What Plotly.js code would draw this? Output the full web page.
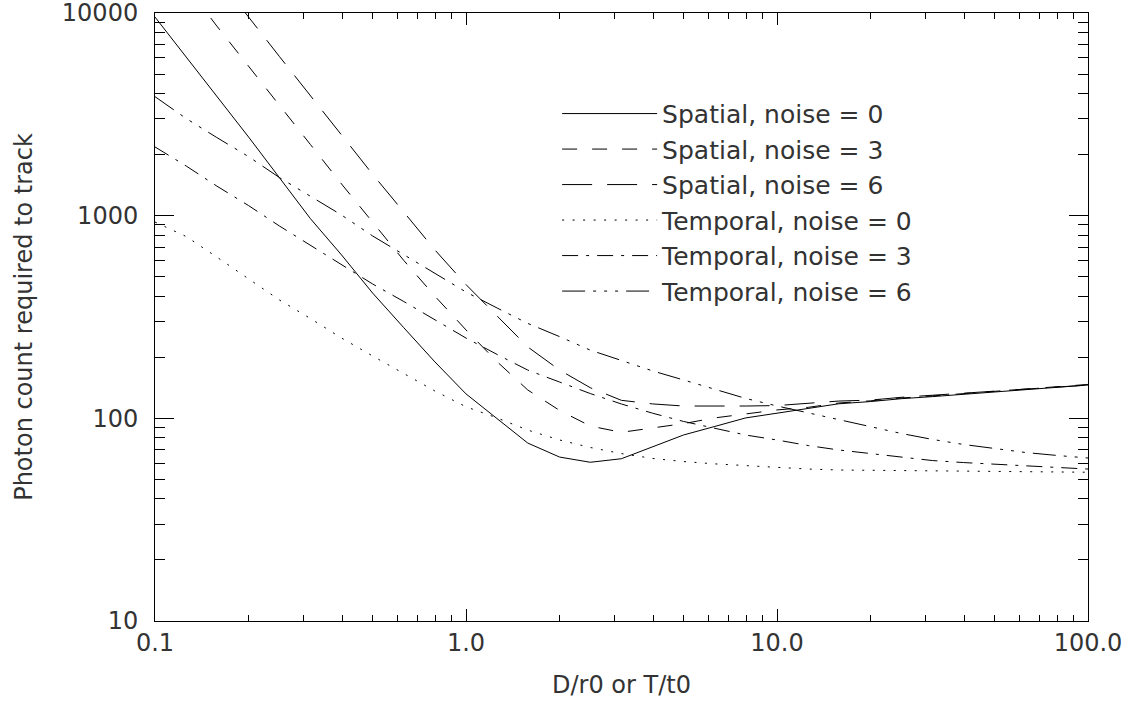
<!DOCTYPE html>
<html>
<head>
<meta charset="utf-8">
<script src="https://cdn.plot.ly/plotly-3.0.1.min.js"></script>
<style>html,body{margin:0;padding:0;background:#fff}#chart{width:1133px;height:705px}</style>
</head>
<body>
<div id="chart"></div>
<script>
// x grid (D/r0 or T/t0)
var xVals = [0.1, 0.126, 0.158, 0.2, 0.251, 0.316, 0.398, 0.501, 0.631, 0.794,
             1.0, 1.26, 1.58, 2.0, 2.51, 3.16, 3.98, 5.01, 6.31, 7.94,
             10.0, 12.6, 15.8, 20.0, 25.1, 31.6, 39.8, 50.1, 63.1, 79.4, 100.0];

var spatial0 = [9550, 6070, 3845, 2443, 1542, 967, 640, 415, 280, 190,
                132, 99, 75.5, 64.4, 60.7, 63.2, 72.3, 82.8, 91.2, 100.5,
                106, 112, 118, 121, 125, 128, 131.6, 135, 138.6, 142, 146];
var spatial3 = [21100, 13600, 8630, 5480, 3510, 2245, 1433, 931, 601, 401,
                273, 190, 138, 109.4, 91.6, 85.3, 89.3, 94.2, 100.5, 104.8,
                110, 113.3, 119, 122, 126, 129, 132.5, 136, 139.5, 143, 147];
var spatial6 = [36500, 23400, 15000, 9550, 6110, 3910, 2500, 1600, 1042, 678,
                457, 318, 225, 173, 141.6, 122.7, 117.8, 115, 114.6, 115,
                115.6, 118.3, 121.7, 123, 127, 130, 133, 136, 139, 142.4, 146];
var temporal0 = [930, 789, 625, 487, 384, 311, 249, 203, 166, 136.5,
                 114, 100.4, 87.5, 78.2, 71.8, 67, 63.4, 61.2, 59.6, 58.3,
                 57.2, 56.2, 55.6, 55.4, 55.2, 55, 54.8, 54.6, 54.5, 54.3, 54.2];
var temporal3 = [2183, 1758, 1400, 1121, 890, 713, 574, 460, 377, 306,
                 249, 206.5, 173, 151, 132.5, 117.7, 106, 96.5, 89, 82.7,
                 78.2, 73.4, 69.8, 67, 64.4, 61.9, 60.5, 59.3, 58.2, 57.2, 56.2];
var temporal6 = [3865, 3015, 2430, 1955, 1543, 1244, 1007, 794, 643, 521,
                 420, 350, 294, 253, 217, 193, 171.4, 154.6, 138.7, 125.3,
                 115.1, 106.3, 98.2, 90.6, 84.2, 78.7, 74.3, 71.0, 67.8, 65.6, 63.7];

var seriesNames = ['Spatial, noise = 0', 'Spatial, noise = 3', 'Spatial, noise = 6',
                   'Temporal, noise = 0', 'Temporal, noise = 3', 'Temporal, noise = 6'];

var xTickVals = [0.1, 1, 10, 100];
var xTickText = ['0.1', '1.0', '10.0', '100.0'];
var yTickVals = [10, 100, 1000, 10000];
var yTickText = ['10', '100', '1000', '10000'];

var dashes = ['solid', '15px,15px', '30px,15px', '2px,8.5px',
              '16px,8px,3px,8px', '23px,8px,3px,8px,3px,8px,3px,8px'];

function minorVals(lo, hi) {
  var out = [];
  for (var d = lo; d < hi; d++) {
    for (var m = 2; m <= 9; m++) out.push(m * Math.pow(10, d));
  }
  return out;
}

var ys = [spatial0, spatial3, spatial6, temporal0, temporal3, temporal6];
var traces = ys.map(function (y, i) {
  return {
    x: xVals, y: y, type: 'scatter', mode: 'lines', name: seriesNames[i],
    line: {color: '#000', width: 1, dash: dashes[i]}
  };
});

var fontFam = '"DejaVu Sans", "Liberation Sans", sans-serif';

var layout = {
  width: 1133, height: 705,
  margin: {l: 155, r: 45, t: 13, b: 84, pad: 0},
  paper_bgcolor: '#fff', plot_bgcolor: '#fff',
  font: {family: fontFam, size: 24, color: '#333'},
  showlegend: true,
  legend: {
    x: 0.431, y: 0.872, xanchor: 'left', yanchor: 'top',
    bgcolor: 'rgba(0,0,0,0)', borderwidth: 0,
    font: {family: fontFam, size: 25, color: '#333'},
    itemwidth: 95, tracegroupgap: 0
  },
  xaxis: {
    type: 'log', range: [-1.000001, 2.000001],
    tickmode: 'array', tickvals: xTickVals, ticktext: xTickText,
    ticks: 'inside', ticklen: 12, tickwidth: 1, tickcolor: '#000',
    showline: true, linecolor: '#000', linewidth: 1, mirror: 'ticks',
    showgrid: false, zeroline: false,
    minor: {tickmode: 'array', tickvals: minorVals(-1, 2), ticks: 'inside', ticklen: 6, tickwidth: 1, tickcolor: '#000', showgrid: false},
    tickfont: {size: 24, color: '#333'},
    ticklabeloverflow: 'allow',
    title: {text: 'D/r0 or T/t0', font: {size: 24, color: '#333'}, standoff: 20}
  },
  yaxis: {
    type: 'log', range: [0.999999, 4.000001],
    tickmode: 'array', tickvals: yTickVals, ticktext: yTickText,
    ticks: 'inside', ticklen: 19, tickwidth: 1, tickcolor: '#000',
    showline: true, linecolor: '#000', linewidth: 1, mirror: 'ticks',
    showgrid: false, zeroline: false,
    minor: {tickmode: 'array', tickvals: minorVals(1, 4), ticks: 'inside', ticklen: 10, tickwidth: 1, tickcolor: '#000', showgrid: false},
    tickfont: {size: 24, color: '#333'},
    ticklabelstandoff: 11,
    ticklabeloverflow: 'allow',
    title: {text: 'Photon count required to track', font: {size: 24, color: '#333'}, standoff: 22}
  }
};

Plotly.newPlot('chart', traces, layout, {displayModeBar: false, staticPlot: true});
</script>
</body>
</html>
